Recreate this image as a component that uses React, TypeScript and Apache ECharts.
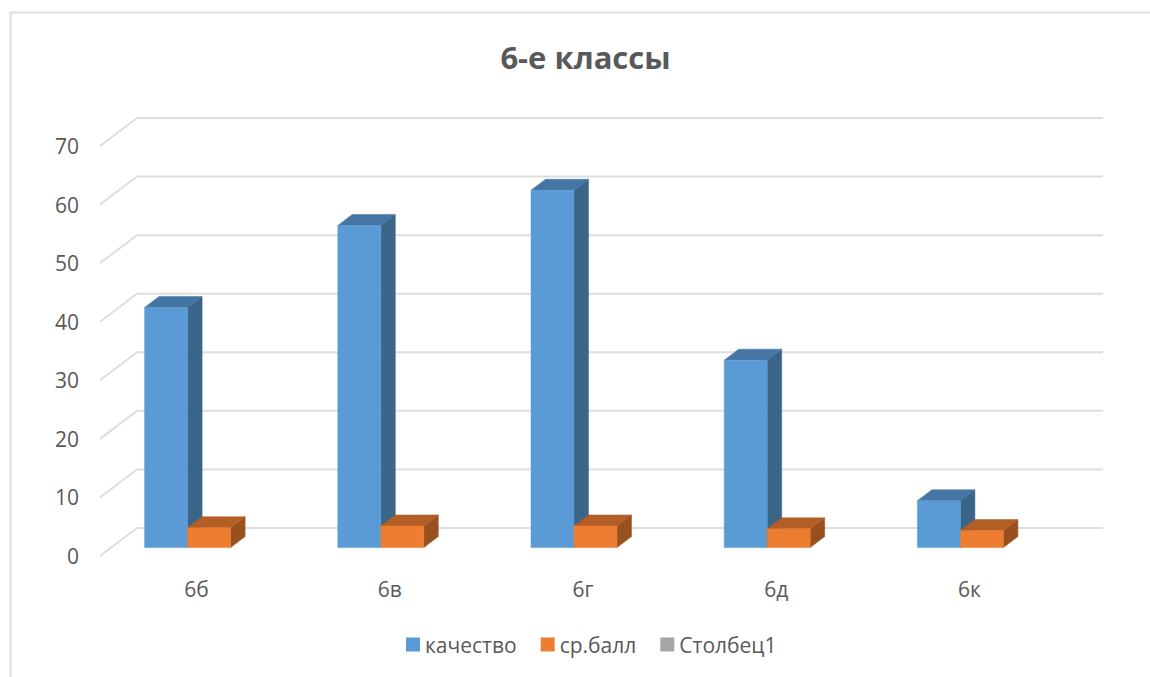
import React, { useEffect, useRef } from "react";
import * as echarts from "echarts";

const titleText = "6-е классы";
const categories = ["6б", "6в", "6г", "6д", "6к"];
const kachestvo = [41, 55, 61, 32, 8];
const srBall = [3.4, 3.7, 3.7, 3.2, 2.9];
const stolbec1: number[] = [];
const ticks = [0, 10, 20, 30, 40, 50, 60, 70];

const FONT = "'Open Sans', sans-serif";
const TEXT = "#595959";
const GRID = "#dedede";

const BAR_W = 43;
const DX = 14.5;
const DY = 11;
const SHIFT_X = 9;
const SHIFT_Y = 8.4;

function barRenderer(offset: number, front: string, top: string, side: string) {
  return (params: any, api: any) => {
    const i = api.value(0);
    const v = api.value(1);
    const base = api.coord([i, 0]);
    const head = api.coord([i, v]);
    const l = base[0] - SHIFT_X + offset * BAR_W;
    const r = l + BAR_W;
    const b = base[1] - SHIFT_Y;
    const t = head[1] - SHIFT_Y;
    const poly = (points: number[][], fill: string) => ({
      type: "polygon",
      shape: { points },
      style: { fill, stroke: fill, lineWidth: 0.5 },
    });
    return {
      type: "group",
      children: [
        poly([[r, b], [r + DX, b - DY], [r + DX, t - DY], [r, t]], side),
        poly([[l, t], [l + DX, t - DY], [r + DX, t - DY], [r, t]], top),
        poly([[l, b], [r, b], [r, t], [l, t]], front),
      ],
    };
  };
}

function wallRenderer(params: any, api: any) {
  const tick = api.value(1);
  const p = api.coord([0, tick]);
  const band = api.size([1, 0])[0];
  const x0 = p[0] - band / 2;
  const y = p[1];
  return {
    type: "polyline",
    shape: {
      points: [
        [x0, y],
        [x0 + 37, y - 28],
        [x0 + 37 + band * categories.length, y - 28],
      ],
    },
    style: { fill: "none", stroke: GRID, lineWidth: 2 },
  };
}

export default function App() {
  const ref = useRef<HTMLDivElement>(null);

  useEffect(() => {
    const chart = echarts.init(ref.current!, undefined, { renderer: "svg" });
    chart.setOption({
      animation: false,
      backgroundColor: "#ffffff",
      title: {
        text: titleText,
        left: 580.5,
        top: 36,
        textAlign: "center",
        textStyle: { fontFamily: FONT, fontSize: 31, fontWeight: "bold", color: TEXT },
      },
      legend: {
        left: 401,
        top: 629,
        itemWidth: 14,
        itemHeight: 14,
        itemGap: 24,
        icon: "rect",
        data: ["качество", "ср.балл", "Столбец1"],
        textStyle: { fontFamily: FONT, fontSize: 21, color: TEXT },
      },
      grid: { left: 100, width: 966, top: 146, height: 410 },
      xAxis: {
        type: "category",
        data: categories,
        axisLine: { show: false },
        axisTick: { show: false },
        axisLabel: { fontFamily: FONT, fontSize: 21, color: TEXT, margin: 22 },
      },
      yAxis: {
        type: "value",
        min: 0,
        max: 70,
        interval: 10,
        axisLine: { show: false },
        axisTick: { show: false },
        splitLine: { show: false },
        axisLabel: { fontFamily: FONT, fontSize: 21, color: TEXT, margin: 21 },
      },
      series: [
        {
          type: "custom",
          name: "wall",
          silent: true,
          renderItem: wallRenderer,
          encode: { x: 0, y: 1 },
          data: ticks.map((t) => [0, t]),
          z: 1,
        },
        {
          type: "custom",
          name: "качество",
          renderItem: barRenderer(-1, "#5b9bd5", "#4575a3", "#3a6589"),
          encode: { x: 0, y: 1 },
          itemStyle: { color: "#5b9bd5" },
          data: kachestvo.map((v, i) => [i, v]),
          z: 2,
        },
        {
          type: "custom",
          name: "ср.балл",
          renderItem: barRenderer(0, "#ed7d31", "#b25e25", "#98501f"),
          encode: { x: 0, y: 1 },
          itemStyle: { color: "#ed7d31" },
          data: srBall.map((v, i) => [i, v]),
          z: 3,
        },
        {
          type: "custom",
          name: "Столбец1",
          renderItem: barRenderer(1, "#a5a5a5", "#7c7c7c", "#6a6a6a"),
          encode: { x: 0, y: 1 },
          itemStyle: { color: "#a5a5a5" },
          data: stolbec1.map((v, i) => [i, v]),
          z: 4,
        },
      ],
      graphic: [
        {
          type: "polyline",
          shape: { points: [[10.5, 677], [10.5, 12.5], [1150, 12.5]] },
          style: { fill: "none", stroke: GRID, lineWidth: 2 },
          z: 0,
        },
      ],
    });
    return () => chart.dispose();
  }, []);

  return (
    <div
      ref={ref}
      style={{ position: "absolute", left: 0, top: 0, width: 1150, height: 677 }}
    />
  );
}
